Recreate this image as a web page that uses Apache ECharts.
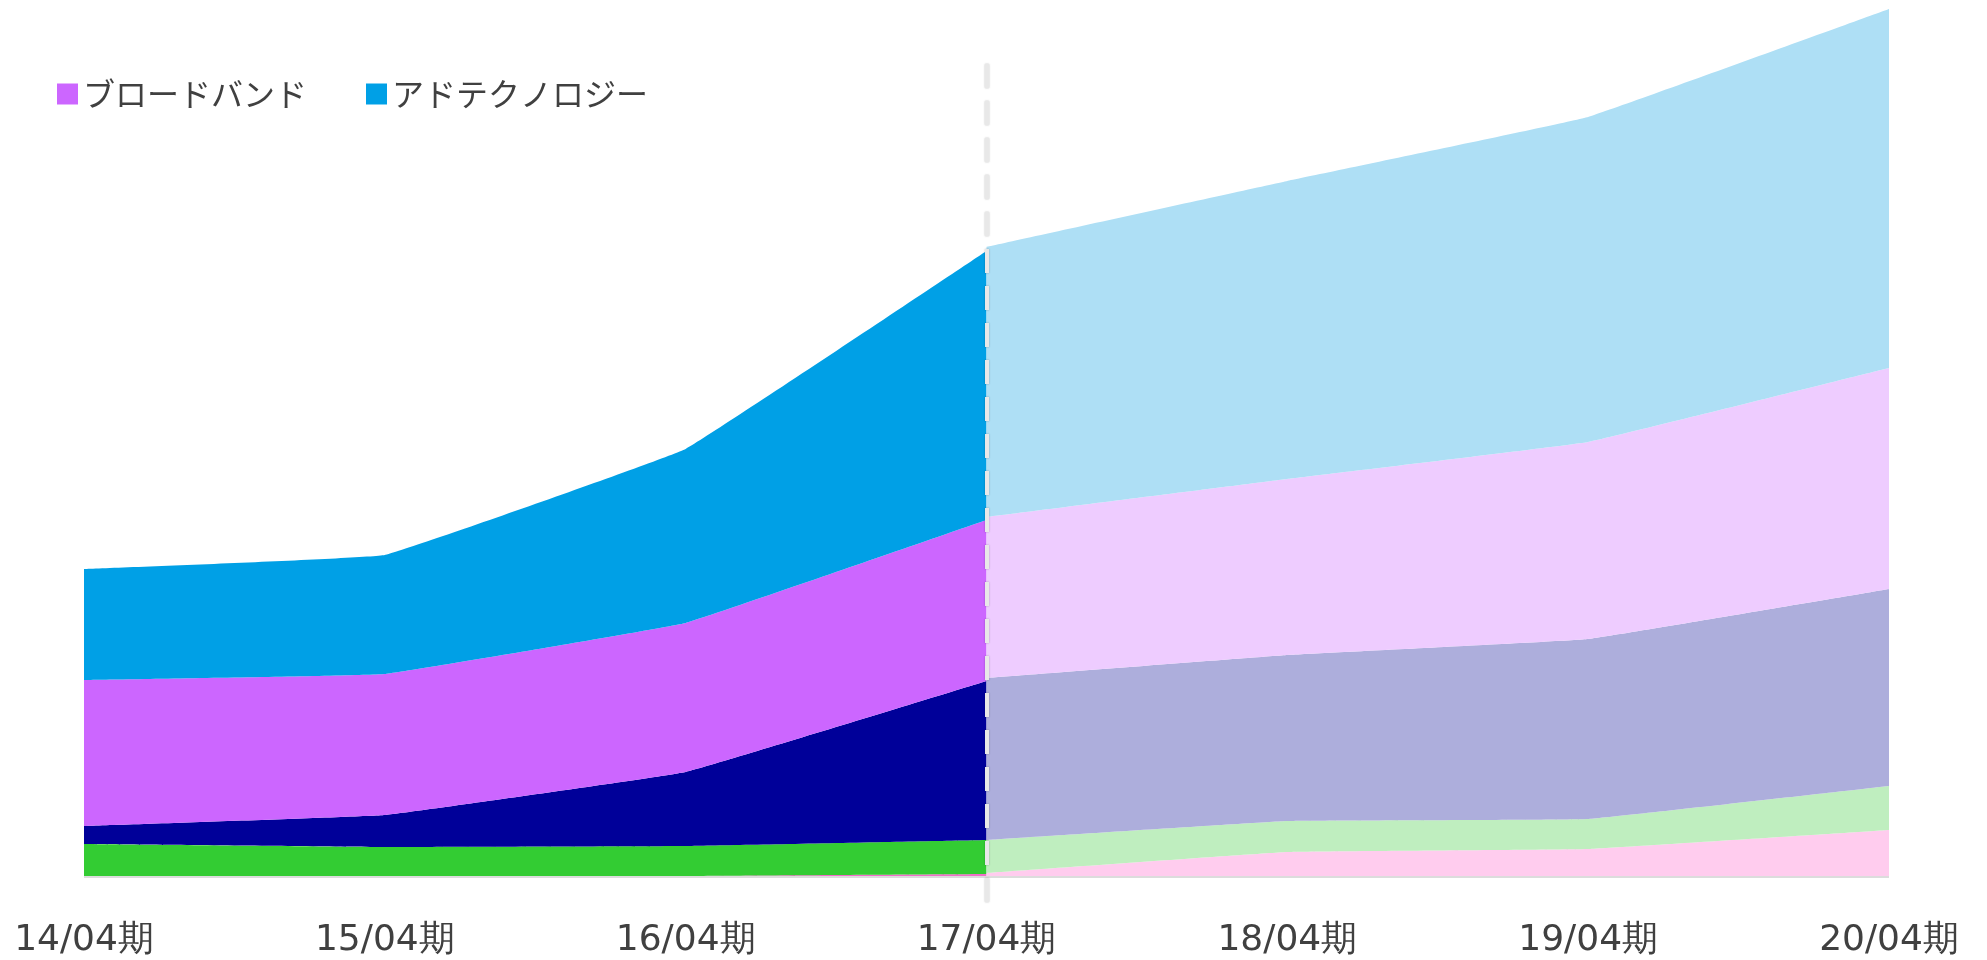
<!DOCTYPE html>
<html>
<head>
<meta charset="utf-8">
<script src="https://cdn.jsdelivr.net/npm/echarts@6/dist/echarts.min.js"></script>
<style>html,body{margin:0;padding:0;background:#fff}#main{width:1987px;height:960px}</style>
</head>
<body>
<div id="main"></div>
<script>
const categories = ['14/04期','15/04期','16/04期','17/04期','18/04期','19/04期','20/04期'];
const legendNames = ['ブロードバンド','アドテクノロジー'];
// actual (14/04 - 17/04)
const pinkActual     = [0, 0, 0.1, 0.3, '-', '-', '-'];
const greenActual    = [3.3, 3.0, 3.0, 3.4, '-', '-', '-'];
const navyActual     = [1.8, 3.2, 7.4, 15.9, '-', '-', '-'];
const purpleActual   = [14.6, 14.1, 14.9, 16.1, '-', '-', '-'];
const blueActual     = [11.1, 11.9, 17.4, 26.9, '-', '-', '-'];
// forecast (17/04 - 20/04)
const pinkForecast   = ['-', '-', '-', 0.4, 2.5, 2.8, 4.7];
const greenForecast  = ['-', '-', '-', 3.3, 3.1, 3.0, 4.4];
const navyForecast   = ['-', '-', '-', 16.2, 16.6, 18.0, 19.7];
const purpleForecast = ['-', '-', '-', 16.1, 17.6, 19.7, 22.1];
const blueForecast   = ['-', '-', '-', 27.0, 29.8, 32.5, 35.9];
const dividerCategory = '17/04期';
const dividerRange = [81.3, -2.8];

function area(name, data, color, stack, extra) {
  return Object.assign({
    name: name, type: 'line', stack: stack, data: data,
    smooth: 0.06, showSymbol: false, symbol: 'none',
    lineStyle: { width: 0 }, itemStyle: { color: color },
    areaStyle: { color: color, opacity: 1, origin: 0 }, emphasis: { disabled: true }
  }, extra || {});
}

const chart = echarts.init(document.getElementById('main'), null, { renderer: 'canvas' });
chart.setOption({
  animation: false,
  legend: {
    data: legendNames, left: 52, top: 73, icon: 'rect',
    itemWidth: 21, itemHeight: 21, itemGap: 59,
    textStyle: { fontFamily: 'Noto Sans CJK JP', fontSize: 32, color: '#404040' }
  },
  grid: { left: 84, right: 98, top: 7, bottom: 53, outerBoundsMode: 'none', containLabel: false },
  xAxis: {
    type: 'category', data: categories, boundaryGap: false,
    axisLine: { show: false },
    axisTick: { show: false },
    axisLabel: { fontFamily: 'DejaVu Sans', fontSize: 36, color: '#404040', margin: 16 },
    splitLine: { show: false }
  },
  yAxis: { type: 'value', min: -3, max: 87, interval: 3, show: false, splitLine: { show: false } },
  series: [
    area('EC', pinkActual, '#f06ec8', 'actual'),
    area('メディア', greenActual, '#33cc33', 'actual'),
    area('ゲーム', navyActual, '#000099', 'actual'),
    area('ブロードバンド', purpleActual, '#cc66ff', 'actual'),
    area('アドテクノロジー', blueActual, '#00a0e6', 'actual'),
    area('EC予', pinkForecast, '#ffccee', 'forecast'),
    area('メディア予', greenForecast, '#bfeebf', 'forecast'),
    area('ゲーム予', navyForecast, '#adaedc', 'forecast'),
    area('ブロードバンド予', purpleForecast, '#eeccff', 'forecast'),
    area('アドテクノロジー予', blueForecast, '#aedff5', 'forecast', {
      markLine: {
        silent: true, symbol: 'none', label: { show: false },
        data: [
          { yAxis: 0, lineStyle: { color: '#dcdcdc', width: 2, type: 'solid' } },
          [{ coord: [dividerCategory, dividerRange[0]], lineStyle: { color: '#e8e8e8', width: 4, type: [24, 13], shadowColor: 'rgba(0,0,0,0.3)', shadowBlur: 2 } },
           { coord: [dividerCategory, dividerRange[1]] }]
        ]
      }
    })
  ]
});
</script>
</body>
</html>
